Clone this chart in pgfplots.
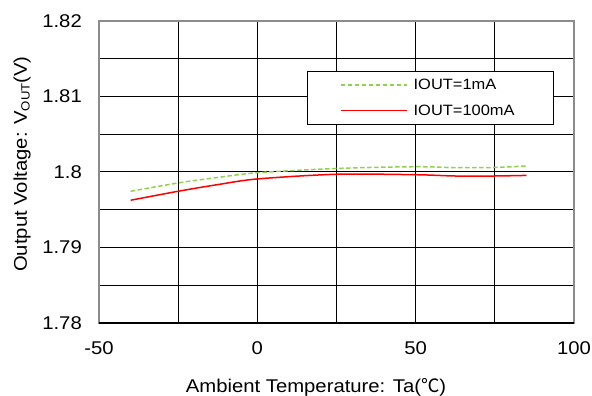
\documentclass[border=0pt]{standalone}
\usepackage{pgfplots}
\pgfplotsset{compat=1.18}
\usepackage{fontspec}
\setmainfont{Liberation Sans}[FakeStretch=1.1]
\newfontfamily\cjk{Noto Sans CJK JP}
\definecolor{lgreen}{RGB}{146,208,80}
\definecolor{lred}{RGB}{255,0,0}
\begin{document}
\begin{tikzpicture}
\useasboundingbox (-99bp,-73bp) rectangle (493bp,323bp);
\begin{axis}[
  name=ax, at={(0,0)}, anchor=south west,
  scale only axis, width=475bp, height=302bp,
  xmin=-50, xmax=100, ymin=1.78, ymax=1.82,
  xtick={-50,0,50,100},
  ytick={1.78,1.79,1.80,1.81,1.82},
  yticklabels={1.78,1.79,1.8,1.81,1.82},
  minor x tick num=1, minor y tick num=1,
  grid=both,
  major grid style={black, line width=1bp},
  minor grid style={black, line width=1bp},
  axis line style={gray!90, line width=1.2bp},
  major tick length=0pt, minor tick length=0pt,
  /pgf/number format/assume math mode=true,
  tick label style={font=\fontsize{18.5}{20}\selectfont, inner sep=0pt},
  yticklabel style={anchor=east, xshift=-17bp},
  xticklabel style={anchor=north, yshift=-18bp},
  every axis x label/.style={at={(axis description cs:0.457,-0.2285)}, anchor=base, font=\fontsize{18.5}{20}\selectfont},
  every axis y label/.style={at={(axis description cs:-0.152,0.526)}, anchor=base, rotate=90, font=\fontsize{18.5}{20}\selectfont},
  xlabel={Ambient Temperature: Ta({\cjk ℃})},
  ylabel={Output Voltage: V\raisebox{-0.15em}{\fontsize{12}{12}\selectfont OUT}(V)},
  legend style={at={(0.438,0.834)}, anchor=north west, draw=black, line width=1.2bp, fill=white,
    inner xsep=0pt, inner ysep=0pt, row sep=0pt, column sep=0pt,
    font=\fontsize{15}{17}\selectfont,
    nodes={inner sep=0pt}},
  legend cell align=left,
]
\addplot[lgreen, line width=1.5bp, dash pattern=on 4.5bp off 2.5bp, smooth,
  legend image code/.code={\draw[draw=lgreen, line width=1.5bp, dash pattern=on 4.5bp off 2.5bp] (0bp,0bp) -- (66bp,0bp);\path[draw=none,fill=none] (-33bp,-13.25bp) rectangle (73bp,13.25bp);}] coordinates {
(-40,1.79745) (-25,1.79855) (-12.5,1.79928) (0,1.79990) (25,1.80047) (50,1.80070) (62.5,1.80057) (75,1.80060) (85,1.80080)};
\addlegendentry{\makebox[140bp][l]{IOUT=1mA}}
\addplot[lred, line width=1.5bp, smooth,
  legend image code/.code={\path[draw=none,fill=none] (-33bp,-13.25bp) rectangle (73bp,13.25bp);}] coordinates {
(-40,1.79626) (-25,1.79745) (-12.5,1.79833) (0,1.79908) (25,1.79970) (50,1.79964) (62.5,1.79947) (75,1.79947) (85,1.79955)};
\addlegendentry{\makebox[140bp][l]{\llap{\textcolor{lred}{\rule[4.6bp]{66bp}{1.5bp}}\hspace{7bp}}IOUT=100mA}}
\end{axis}
\draw[black, line width=1.2bp] (0,0) -- (475bp,0);
\end{tikzpicture}
\end{document}
